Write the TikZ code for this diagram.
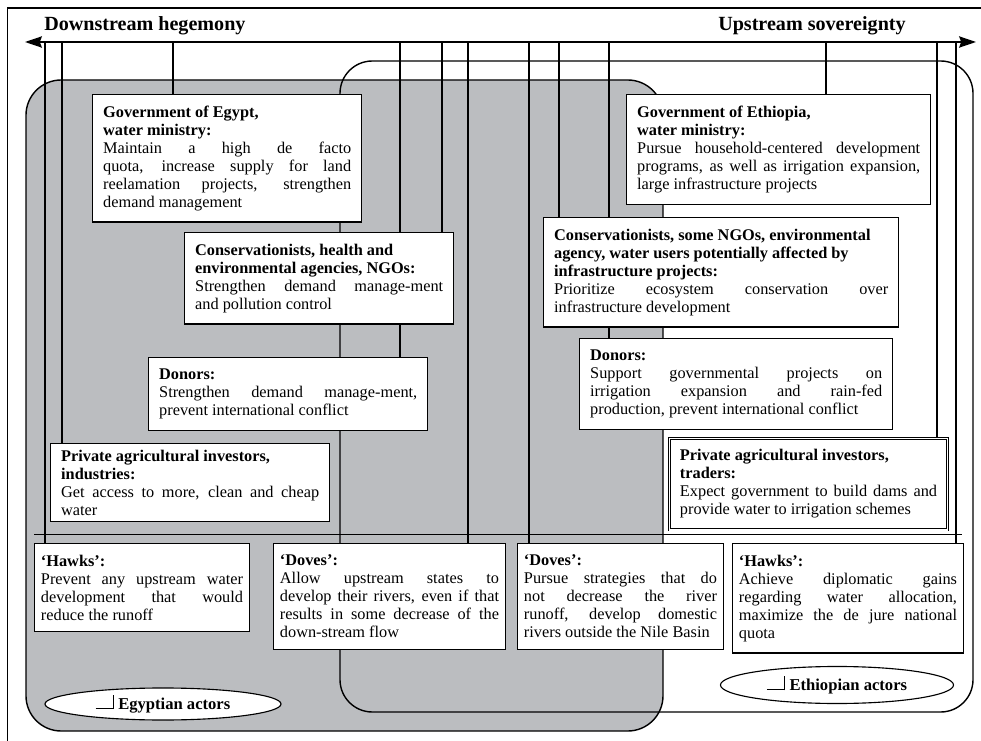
\documentclass[tikz,border=0pt]{standalone}
\usepackage{fontspec}
\setmainfont{Liberation Serif}
\usepackage{tikz}
\usetikzlibrary{shapes,arrows,positioning,calc,backgrounds,arrows.meta}
\definecolor{egyptgray}{RGB}{187,189,192}
\tikzset{
  actor/.style={draw, fill=white, line width=0.9pt, anchor=north west, align=justify, inner xsep=7.5pt, inner ysep=8pt, font=\fontsize{11.6}{12.8}\selectfont},
  stance/.style={actor, inner xsep=4.5pt},
  link/.style={line width=1.2pt},
  legend/.style={ellipse, draw, fill=white, line width=0.8pt, inner sep=0pt, font=\fontsize{11.8}{12.8}\selectfont\bfseries},
  pole/.style={inner sep=0pt, font=\fontsize{14.3}{16}\selectfont\bfseries}
}
\newcommand{\swatch}{\rule{12.5pt}{0.6pt}\rule{0.6pt}{10pt}\hspace{3pt}}

\begin{document}
\begin{tikzpicture}[x=0.025cm, y=-0.025cm]
        \useasboundingbox (0,0) rectangle (981,741);
        % Frame and axis
        \draw[line width=0.8pt] (7.5,741) -- (7.5,8) -- (981,8);
        \coordinate (down) at (25,42);
        \coordinate (up) at (976,42);
        \draw[line width=1.2pt, {Stealth[length=12pt,width=8pt,inset=1.5pt]}-{Stealth[length=12pt,width=8pt,inset=1.5pt]}] (down) -- (up);
        \node[pole, anchor=base west] (dlab) at (44,31) {Downstream hegemony};
        \node[pole, anchor=base east] (ulab) at (906,31) {Upstream sovereignty};

        % Egyptian actors
        \node[actor, text width=6.2cm] (govE) at (92,94) {\textbf{Government of Egypt,\\ water ministry:}\\ Maintain a high de facto\linebreak quota, increase supply for land\linebreak reelamation projects, strengthen\linebreak demand management};
        \node[actor, text width=6.2cm] (consE) at (184,232) {\textbf{Conservationists, health and\\ environmental agencies, NGOs:}\\ Strengthen demand manage-ment\linebreak and pollution control};
        \node[actor, text width=6.45cm] (donorsE) at (148,357) {\textbf{Donors:}\\ Strengthen demand manage-ment,\linebreak prevent international conflict};
        \node[actor, text width=6.45cm, inner ysep=4.5pt] (privE) at (50,443) {\textbf{Private agricultural investors,\\ industries:}\\ Get access to more, clean and cheap\linebreak water};
        \node[stance, text width=5.05cm] (hawksE) at (34,543) {\textbf{`Hawks':}\\ Prevent any upstream water\linebreak development that would\linebreak reduce the runoff};
        \node[stance, text width=5.475cm] (dovesE) at (273,543) {\textbf{`Doves':}\\ Allow upstream states to\linebreak develop their rivers, even if that\linebreak results in some decrease of the\linebreak down-stream flow};

        % Ethiopian actors
        \node[actor, text width=7.075cm] (govEt) at (626,94) {\textbf{Government of Ethiopia,\\ water ministry:}\\ Pursue household-centered development\linebreak programs, as well as irrigation expansion,\linebreak large infrastructure projects};
        \node[actor, text width=8.35cm] (consEt) at (543,217) {\textbf{Conservationists, some NGOs, environmental\\ agency, water users potentially affected by\\ infrastructure projects:}\\ Prioritize ecosystem conservation over\linebreak infrastructure development};
        \node[actor, text width=7.3cm] (donorsEt) at (579,338) {\textbf{Donors:}\\ Support governmental projects on\linebreak irrigation expansion and rain-fed\linebreak production, prevent international conflict};
        \node[actor, text width=6.425cm, line width=0.6pt, double, double distance=1.2pt] (privEt) at (669,438) {\textbf{Private agricultural investors,\\ traders:}\\ Expect government to build dams and\linebreak provide water to irrigation schemes};
        \node[stance, text width=4.825cm] (dovesEt) at (517,543) {\textbf{`Doves':}\\ Pursue strategies that do\linebreak not decrease the river\linebreak runoff, develop domestic\linebreak rivers outside the Nile Basin};
        \node[stance, text width=5.45cm] (hawksEt) at (732,543) {\textbf{`Hawks':}\\ Achieve diplomatic gains\linebreak regarding water allocation,\linebreak maximize the de jure national\linebreak quota};

        % Legend
        \node[legend, minimum width=5.9cm, minimum height=0.8cm] (egyLeg) at (163,704) {\swatch Egyptian actors};
        \node[legend, minimum width=5.825cm, minimum height=0.925cm] (ethLeg) at (837,685) {\swatch Ethiopian actors};

        \begin{pgfonlayer}{background}
            \draw[fill=egyptgray, line width=1pt, rounded corners=25pt] (26,80) rectangle (663,731);
            \draw[line width=1pt, rounded corners=23pt] (340,61) rectangle (973,712);
            \draw[line width=0.7pt] (34,534) -- (962,534);
            \foreach \x/\n in {45/hawksE, 62/privE, 173/govE, 400/donorsE, 442/consE, 468/dovesE, 529/dovesEt, 559/consEt, 609/donorsEt, 826/govEt, 937/privEt, 956/hawksEt} {
                \coordinate (top) at (\x,42);
                \draw[link] (top) -- (top |- \n.north);
            }
        \end{pgfonlayer}
    \end{tikzpicture}
\end{document}
